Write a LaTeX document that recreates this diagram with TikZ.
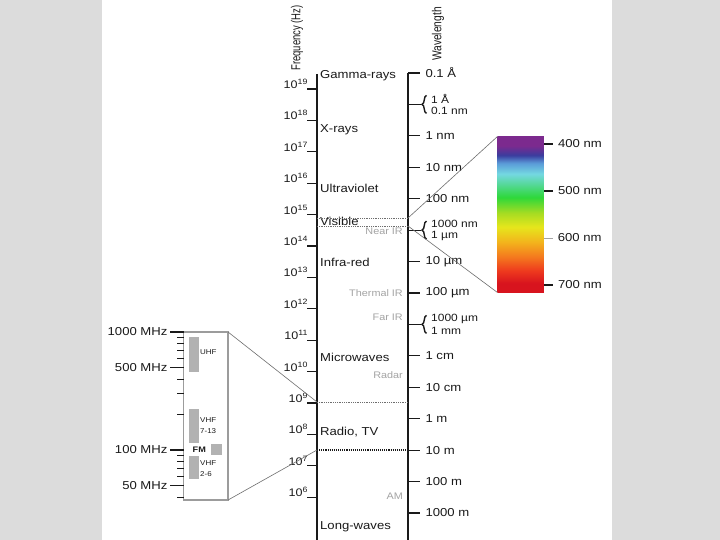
\documentclass[tikz,border=0pt]{standalone}
\usepackage{fontspec}
\setmainfont[FakeStretch=1.14]{Liberation Sans}
\usetikzlibrary{positioning,decorations.pathreplacing}
\definecolor{pageC}{HTML}{DCDCDC}
\definecolor{inkC}{HTML}{1A1A1A}
\definecolor{softC}{HTML}{A4A4A4}
\definecolor{barC}{HTML}{B2B2B2}
\definecolor{boxC}{HTML}{9C9C9C}
\definecolor{zoomC}{HTML}{6E6E6E}
\definecolor{redC}{HTML}{D8141E}
\definecolor{redorC}{HTML}{EE3A1E}
\definecolor{orC}{HTML}{F47A1E}
\definecolor{yorC}{HTML}{F3B21C}
\definecolor{yelC}{HTML}{E6E61C}
\definecolor{ygrC}{HTML}{A6DC22}
\definecolor{grnC}{HTML}{2ED83A}
\definecolor{cyaC}{HTML}{74D8E2}
\definecolor{lblC}{HTML}{5A9AD8}
\definecolor{indC}{HTML}{3A3C9E}
\definecolor{vioC}{HTML}{7C2A8E}
\pgfdeclareverticalshading{spectrum}{100bp}{color(0bp)=(redC); color(28bp)=(redC);
  color(32bp)=(redorC); color(36.5bp)=(orC); color(41bp)=(yorC); color(46bp)=(yelC);
  color(50.5bp)=(ygrC); color(55.5bp)=(grnC); color(63bp)=(cyaC); color(66.5bp)=(lblC);
  color(69bp)=(indC); color(72bp)=(vioC); color(100bp)=(vioC)}
\newcommand{\lbl}{\fontsize{11.5}{13}\selectfont}
\newcommand{\pairlbl}{\fontsize{10.5}{12}\selectfont}
\newcommand{\sublbl}{\fontsize{9.5}{11}\selectfont}
\newcommand{\barlbl}{\fontsize{7}{11}\selectfont}
\tikzset{
  axis/.style={draw=inkC, line width=1.1pt},
  minortick/.style={draw=inkC, line width=0.8pt},
  title/.style={rotate=90, font=\fontsize{13}{15}\selectfont, text=inkC, inner sep=0},
  expo/.style={anchor=base east, font=\fontsize{11}{13}\selectfont, text=inkC, inner sep=0, xshift=1.5pt, yshift=0.5pt},
  wave/.style={anchor=west, font=\lbl, text=inkC, inner sep=0},
  pair/.style={wave, font=\pairlbl},
  region/.style={anchor=west, font=\lbl, text=inkC, inner sep=0},
  sub/.style={anchor=east, font=\sublbl, text=softC, inner sep=0},
  brace/.style={decorate, decoration={brace, amplitude=4.5pt}, draw=inkC, line width=1.4pt},
  bandline/.style={draw=zoomC, densely dotted, line width=0.8pt},
  zoomline/.style={draw=zoomC, line width=0.6pt},
  specbar/.style={shade, shading=spectrum, minimum width=46.5pt, minimum height=156pt, inner sep=0, outer sep=0},
  radiobox/.style={draw=boxC, line width=1.3pt, minimum width=44.5pt, minimum height=168pt, inner sep=0, outer sep=0},
  bandtxt/.style={anchor=west, font=\barlbl, text=inkC, align=left, inner sep=0},
}
\begin{document}
\begin{tikzpicture}[x=1pt, y=-1pt]
\fill[pageC] (0,0) rectangle (720,540);
\fill[white] (102,0) rectangle (612,540);
\useasboundingbox (0,0) rectangle (720,540);

\coordinate (ftop) at (317,74);
\coordinate (fbot) at (317,540);
\coordinate (wtop) at (408,73);
\coordinate (wbot) at (408,540);
\draw[axis] (ftop) -- (fbot);
\draw[axis] (wtop) -- (wbot);
\node[title] (ftitle) at (297,38) {\scalebox{0.64}[1]{Frequency (Hz)}};
\node[title] (wtitle) at (438,34) {\scalebox{0.69}[1]{Wavelength}};

\foreach \e [count=\k from 0] in {19,18,...,6}
  \draw[axis] (307,89+31.4*\k) -- (317,89+31.4*\k) node[expo, pos=0] (f\e) {10\textsuperscript{\e}};

\foreach \k/\w in {0/0.1 Å, 2/1 nm, 3/10 nm, 4/100 nm, 6/10 µm, 7/100 µm,
    9/1 cm, 10/10 cm, 11/1 m, 12/10 m, 13/100 m, 14/1000 m}
  \draw[axis] (408,73+31.43*\k) -- (420,73+31.43*\k) node[wave, pos=1, xshift=5pt] (w\k) {\w};
\foreach \k/\a/\b in {1/1 Å/0.1 nm, 5/1000 nm/1 µm, 8/1000 µm/1 mm}{
  \draw[axis] (408,73+31.43*\k) -- (421,73+31.43*\k);
  \draw[brace] (426.5,82+31.43*\k) -- (426.5,64+31.43*\k);
  \node[pair] (wa\k) at (431,67+31.43*\k) {\a};
  \node[pair] (wb\k) at (431,79+31.43*\k) {\b};
}

\foreach \y/\r [count=\i] in {76/Gamma-rays, 130/X-rays, 188/Ultraviolet, 221.5/Visible,
    262/Infra-red, 357/Microwaves, 432.5/{Radio, TV}, 527/Long-waves}
  \node[region] (band\i) at (320,\y) {\r};
\foreach \y/\s [count=\i] in {231/Near IR, 293/Thermal IR, 317/Far IR, 375/Radar, 496/AM}
  \node[sub] (sub\i) at (403,\y) {\s};

\coordinate (visT) at (408,218);
\coordinate (visB) at (408,226);
\coordinate (mw) at (317,402);
\coordinate (rw) at (317,450);
\draw[bandline] (317,218) -- (visT);
\draw[bandline] (317,226) -- (visB);
\draw[bandline] (mw) -- (408,402);
\draw[draw=inkC, densely dotted, line width=1.1pt] (rw) -- (408,450);

\node[specbar] (vis) at (520.7,214.5) {};
\draw[zoomline] (visT) -- (vis.north west);
\draw[zoomline] (visB) -- (vis.south west);
\foreach \n/\y in {400/144, 500/191, 700/285}
  \draw[axis] (544,\y) -- (553,\y) node[wave, pos=1, xshift=4.5pt] (nm\n) {\n\ nm};
\draw[draw=softC, line width=0.8pt] (544,238) -- (553,238) node[wave, pos=1, xshift=4.5pt] (nm600) {600 nm};

\node[radiobox] (radio) at (205.8,416) {};
\draw[zoomline] (radio.north east) -- (mw);
\draw[zoomline] (radio.south east) -- (rw);
\foreach \f in {1000,500,100,50}
  \draw[axis] (170,{450-118*log10(\f/100)}) -- (184,{450-118*log10(\f/100)})
    node[wave, anchor=east, pos=0, xshift=-2pt] (mhz\f) {\f\ MHz};
\foreach \f in {900,800,700,600,400,300,200,90,80,70,60,40}
  \draw[minortick] (177,{450-118*log10(\f/100)}) -- (184,{450-118*log10(\f/100)});

\fill[barC] (189,337) rectangle (199,372);
\fill[barC] (189,409) rectangle (199,443);
\fill[barC] (211,444) rectangle (222,455);
\fill[barC] (189,456) rectangle (199,479);
\node[bandtxt] (uhf) at (200,352.5) {UHF};
\node[bandtxt] (vhfhi) at (200,425.5) {VHF\\7-13};
\node[bandtxt] (vhflo) at (200,469) {VHF\\2-6};
\node[bandtxt, font=\fontsize{8}{9}\selectfont\bfseries] (fm) at (192.5,449.5) {FM};
\end{tikzpicture}
\end{document}
